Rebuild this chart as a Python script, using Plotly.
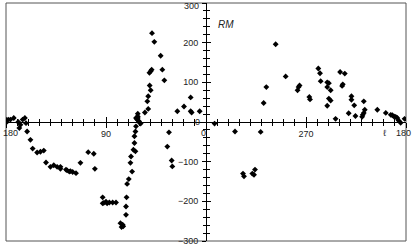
import numpy as np
import plotly.graph_objects as go

# Galactic longitude (deg, 0-360) and rotation measure (rad m^-2)
longitude = [
    180, 179.7, 178, 176, 173, 169, 168, 167, 165, 163, 162, 161, 158, 156, 152, 149, 146,
    144, 140, 137, 134, 131, 131, 126, 125, 123, 122, 120, 117, 113, 106, 101, 100,
    93, 93, 92, 90, 89, 87, 84, 81, 77, 75, 74.5, 76, 72, 72, 71.5, 71, 69.5,
    66.5, 68, 67.5, 65.3, 63.5, 64.4, 64.4, 63.5, 63, 62, 61.4, 60.3, 58.8, 63, 61.4, 60,
    61.4, 55, 52, 52.8, 52, 50.7, 49.8, 50.9, 49.8, 48.9, 48.6, 46.5, 40.8, 39.3, 37.5,
    33.3, 34.8, 30.9, 30.3, 25.8, 19.8, 13.8, 13.8, 12.9, 5.7,
    352.3, 333.9, 310.8, 326.7, 325.8, 318.3, 316.8, 315.9, 308.1, 305.7, 297.3, 288.3,
    276.7, 275.8, 277.6, 267, 266.4, 258.9, 257.4, 256.8, 250.9, 249.4, 250.9, 247.8,
    249.4, 247.8, 250.9, 243.4, 239.3, 235.1, 236.9, 237.5, 231.6, 229.1, 229.1, 226.6,
    225.5, 218, 217.1, 219.5, 218.9, 218, 205.8, 198.2, 193.7, 192.3, 190.8, 189.3,
    187.8, 186.7, 184.8, 181.3,
]
rm = [
    6, -1, 6, 6, 10, 0, -15, -7, 6, 10, -3, -24, -45, -67, -77, -75, -72,
    -102, -113, -109, -113, -113, -118, -120, -122, -125, -124, -126, -129, -103, -76, -80, -118,
    -190, -205, -204, -201, -205, -203, -203, -203, -255, -259, -263, -265, -234, -213, -190, -156, -144,
    -125, -103, -87, -70, -74, -53, -36, -24, -11, 6, 14, 2, -4, 10, 10, -1,
    21, 24, 33, 52, 65, 92, 80, 124, 128, 132, 224, 202, 167, 132, 105,
    -26, -62, -97, -112, 27, 39, 62, 27, 24, 27,
    -4, -24, -25, -130, -137, -130, -133, -120, 48, 88, 196, 115,
    88, 92, 80, 63, 57, 135, 123, 103, 100, 98, 88, 80,
    59, 54, 41, 8, 126, 122, 95, 91, 22, 65, 56, 42,
    15, 52, 31, 13, 18, 23, 31, 23, 18, 17, 14, 13,
    10, 4, -2, 8,
]

x_tick_vals = [180, 90, 0, -90, -180]
x_tick_text = ["", "90", "", "270", ""]          # 180 / 0 / 180 drawn as annotations
y_tick_vals = [300, 200, 100, 0, -100, -200, -300]
y_tick_text = ["", "200", "100", "", "−100", "−200", "−300"]  # 300 / 0 as annotations

lon = np.array(longitude, dtype=float)
xplot = np.where(lon > 180, lon - 360, lon)

fig = go.Figure()
fig.add_trace(go.Scatter(
    x=xplot, y=rm, mode="markers",
    marker=dict(symbol="diamond", size=4.5, color="black", line=dict(width=0)),
    showlegend=False, hoverinfo="skip",
))
# invisible trace to activate overlay axes (inner half of crossing ticks)
fig.add_trace(go.Scatter(x=[None], y=[None], xaxis="x2", yaxis="y2",
                         mode="markers", showlegend=False, hoverinfo="skip"))

FAM = "Liberation Sans, Arial, sans-serif"
font = dict(family=FAM, size=9, color="#222")
XR = [180, -180]
YR = [-300, 300]

def lab(text, x, y, xanchor, xshift, yshift, italic=False, size=9):
    return dict(text=f"<i>{text}</i>" if italic else text, x=x, y=y, xref="x", yref="y",
                xanchor=xanchor, yanchor="middle", xshift=xshift, yshift=yshift,
                showarrow=False, borderpad=0, font=dict(family=FAM, size=size, color="#222"))

fig.update_layout(
    width=413, height=245,
    margin=dict(l=6, r=7, t=3, b=4),
    paper_bgcolor="white", plot_bgcolor="white",
    font=font,
    xaxis=dict(
        range=XR, anchor="free", position=0.5, showgrid=False, zeroline=False,
        showline=True, linecolor="black", linewidth=1,
        tickmode="array", tickvals=x_tick_vals, ticktext=x_tick_text,
        ticks="outside", ticklen=5, tickcolor="black", tickwidth=1,
        minor=dict(tickmode="linear", tick0=0, dtick=10, ticks="outside", ticklen=3,
                   tickcolor="black", tickwidth=1, showgrid=False),
        tickfont=font, automargin=False, ticklabeloverflow="allow",
        ticklabelstandoff=-2,
    ),
    xaxis2=dict(
        range=XR, overlaying="x", anchor="free", position=0.5, showgrid=False,
        zeroline=False, showline=False, showticklabels=False,
        tickmode="array", tickvals=x_tick_vals,
        ticks="inside", ticklen=5, tickcolor="black", tickwidth=1,
        minor=dict(tickmode="linear", tick0=0, dtick=10, ticks="inside", ticklen=3,
                   tickcolor="black", tickwidth=1, showgrid=False),
        automargin=False,
    ),
    yaxis=dict(
        range=YR, anchor="free", position=0.5, showgrid=False, zeroline=False,
        showline=True, linecolor="black", linewidth=1,
        tickmode="array", tickvals=y_tick_vals, ticktext=y_tick_text,
        ticks="outside", ticklen=4, tickcolor="black", tickwidth=1,
        minor=dict(tickmode="linear", tick0=0, dtick=20, ticks="outside", ticklen=3,
                   tickcolor="black", tickwidth=1, showgrid=False),
        tickfont=font, automargin=False, ticklabelstandoff=2, ticklabeloverflow="allow",
    ),
    yaxis2=dict(
        range=YR, overlaying="y", anchor="free", position=0.5, side="left",
        showgrid=False, zeroline=False, showline=False, showticklabels=False,
        tickmode="array", tickvals=y_tick_vals,
        ticks="inside", ticklen=4, tickcolor="black", tickwidth=1,
        minor=dict(tickmode="linear", tick0=0, dtick=20, ticks="inside", ticklen=3,
                   tickcolor="black", tickwidth=1, showgrid=False),
        automargin=False,
    ),
    shapes=[dict(type="rect", xref="paper", yref="paper", x0=0, x1=1, y0=0, y1=1,
                 line=dict(color="#555", width=1), layer="below")],
    annotations=[
        lab("RM", -18, 245, "center", 0, 0, italic=True, size=10),
        lab("ℓ", -161.5, 0, "center", 0, -11),
        lab("180", 180, 0, "left", -4, -11),
        lab("180", -180, 0, "right", 6, -11),
        lab("0", 0, 0, "right", 1, -11),
        lab("0", 0, 0, "right", -5, 0),
        lab("300", 0, 300, "right", -6, -3),
    ],
)

fig.write_html("out.html", config={"displayModeBar": False},
               post_script="document.body.style.margin='0';")
